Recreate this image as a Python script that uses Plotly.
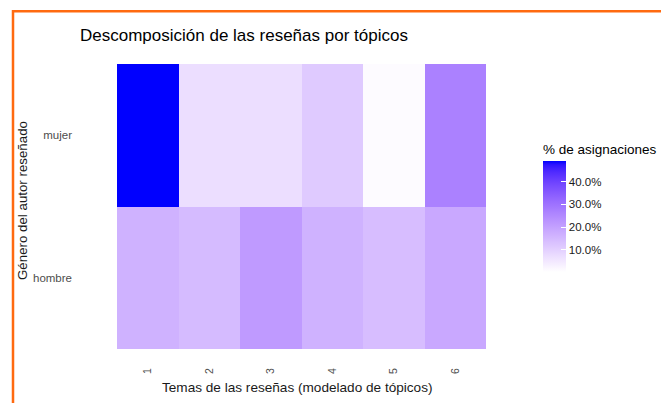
import plotly.graph_objects as go

# ---- data ----
topics = ["1", "2", "3", "4", "5", "6"]
genders = ["hombre", "mujer"]
mujer_pct = [49.0, 7.2, 7.2, 11.3, 1.1, 26.8]
hombre_pct = [16.4, 14.6, 21.5, 16.4, 14.0, 18.5]
colorbar_ticks = [10, 20, 30, 40]
colorbar_ticktext = ["10.0%", "20.0%", "30.0%", "40.0%"]


# ---- Lab colour interpolation (white -> blue), like ggplot's gradient ----
def _to_lin(c):
    c = c / 255.0
    return c / 12.92 if c <= 0.04045 else ((c + 0.055) / 1.055) ** 2.4


def _from_lin(c):
    c = max(0.0, min(1.0, c))
    v = 12.92 * c if c <= 0.0031308 else 1.055 * c ** (1 / 2.4) - 0.055
    return int(round(max(0, min(1, v)) * 255))


WX, WY, WZ = 0.95047, 1.0, 1.08883


def _f(t):
    return t ** (1 / 3) if t > 216 / 24389 else (24389 / 27 * t + 16) / 116


def _finv(t):
    return t ** 3 if t ** 3 > 216 / 24389 else (116 * t - 16) / (24389 / 27)


def rgb2lab(rgb):
    r, g, b = (_to_lin(v) for v in rgb)
    X = 0.4124 * r + 0.3576 * g + 0.1805 * b
    Y = 0.2126 * r + 0.7152 * g + 0.0722 * b
    Z = 0.0193 * r + 0.1192 * g + 0.9505 * b
    fx, fy, fz = _f(X / WX), _f(Y / WY), _f(Z / WZ)
    return (116 * fy - 16, 500 * (fx - fy), 200 * (fy - fz))


def lab2rgb(lab):
    L, a, bb = lab
    fy = (L + 16) / 116
    fx = fy + a / 500
    fz = fy - bb / 200
    X, Y, Z = WX * _finv(fx), WY * _finv(fy), WZ * _finv(fz)
    r = 3.2406 * X - 1.5372 * Y - 0.4986 * Z
    g = -0.9689 * X + 1.8758 * Y + 0.0415 * Z
    b = 0.0557 * X - 0.2040 * Y + 1.0570 * Z
    return tuple(_from_lin(v) for v in (r, g, b))


lo = rgb2lab((255, 255, 255))
hi = rgb2lab((0, 0, 255))
n = 30
colorscale = []
for i in range(n + 1):
    t = i / n
    lab = tuple(lo[k] + (hi[k] - lo[k]) * t for k in range(3))
    r, g, b = lab2rgb(lab)
    colorscale.append([t, f"rgb({r},{g},{b})"])

# ---- layout geometry (screen pixels; page body has an 8px margin) ----
OFF = 8
W, H = 669 - OFF, 403 - OFF
PL, PR, PT, PB = 117, 486, 64, 349  # plot area in screen pixels
pw, ph = PR - PL, PB - PT


def px(x):
    return (x - PL) / pw


def py(y):
    return (PB - y) / ph


FONT = "Liberation Sans, Arial"

fig = go.Figure(
    go.Heatmap(
        x=topics,
        y=genders,
        z=[hombre_pct, mujer_pct],
        colorscale=colorscale,
        zmin=0.3,
        zmax=max(max(mujer_pct), max(hombre_pct)),
        colorbar=dict(
            title=dict(text="% de asignaciones", side="top",
                       font=dict(family=FONT, size=13.5, color="#000000")),
            tickvals=colorbar_ticks,
            ticktext=colorbar_ticktext,
            ticks="inside",
            ticklen=5,
            tickcolor="white",
            tickfont=dict(family=FONT, size=11.5, color="#1a1a1a"),
            outlinewidth=0,
            thickness=23,
            lenmode="pixels",
            len=131,
            x=px(543),
            xanchor="left",
            y=py(141),
            yanchor="top",
            xpad=0,
            ypad=0,
        ),
    )
)

fig.update_layout(
    width=W,
    height=H,
    margin=dict(l=PL - OFF, r=669 - PR, t=PT - OFF, b=403 - PB, pad=0, autoexpand=False),
    paper_bgcolor="white",
    plot_bgcolor="white",
    font=dict(family=FONT, color="#000000"),
    title=dict(
        text="Descomposición de las reseñas por tópicos",
        x=(80 - OFF) / W,
        xref="container",
        xanchor="left",
        y=1 - (35 - OFF) / H,
        yref="container",
        yanchor="middle",
        font=dict(size=17, color="#000000"),
    ),
    xaxis=dict(
        tickangle=-90,
        tickfont=dict(size=10.5, color="#4d4d4d"),
        ticklabelstandoff=16,
        showgrid=False,
        zeroline=False,
        showline=False,
        ticks="",
    ),
    yaxis=dict(
        tickfont=dict(size=11.5, color="#4d4d4d"),
        ticklabelstandoff=44,
        showgrid=False,
        zeroline=False,
        showline=False,
        ticks="",
    ),
    annotations=[
        dict(text="Temas de las reseñas (modelado de tópicos)", xref="paper", yref="paper",
             x=px(297), y=py(387), xanchor="center", yanchor="middle", showarrow=False,
             font=dict(size=13.6, color="#1a1a1a")),
        dict(text="Género del autor reseñado", xref="paper", yref="paper",
             x=px(22), y=py(201), xanchor="center", yanchor="middle", showarrow=False,
             textangle=-90, font=dict(size=13.3, color="#1a1a1a")),
    ],
    shapes=[
        dict(type="line", xref="paper", yref="paper",
             x0=px(12), x1=px(680), y0=py(11.3), y1=py(11.3),
             line=dict(color="#FF6A10", width=2.5)),
        dict(type="line", xref="paper", yref="paper",
             x0=px(13), x1=px(13), y0=py(10), y1=py(420),
             line=dict(color="#FF6A10", width=2.5)),
    ],
)

fig.write_html("out.html")
